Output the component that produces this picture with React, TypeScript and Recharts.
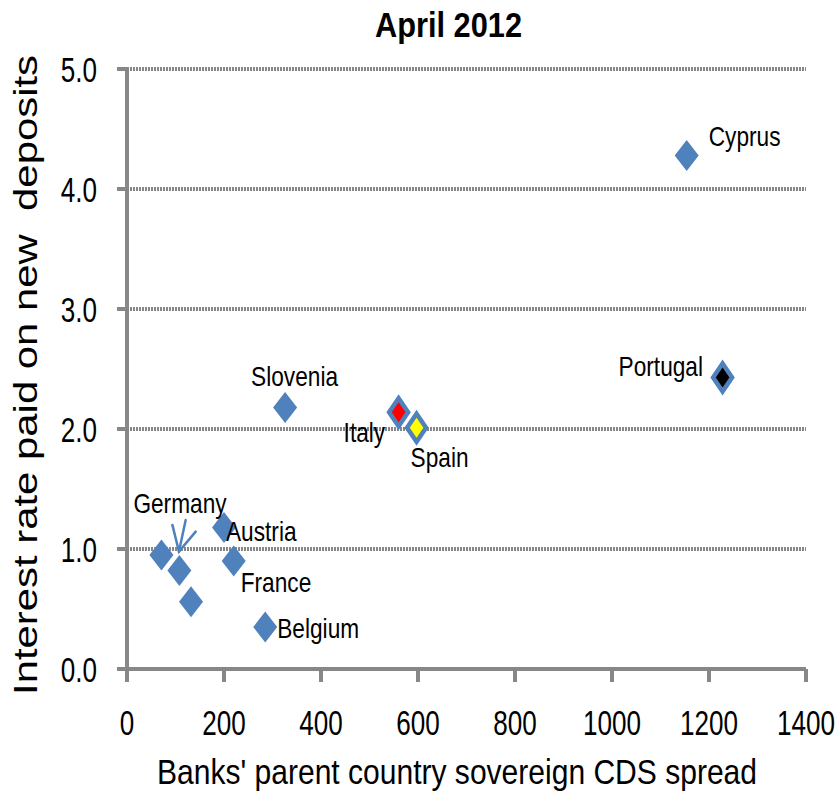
import { ScatterChart, Scatter, XAxis, YAxis, CartesianGrid } from 'recharts';

const countries = ['', 'Germany', '', 'Austria', 'France', 'Belgium', 'Slovenia', 'Italy', 'Spain', 'Portugal', 'Cyprus'];
const cdsSpread = [71, 108, 132, 200, 220, 285, 326, 560, 597, 1228, 1154];
const depositRate = [0.95, 0.82, 0.56, 1.18, 0.9, 0.35, 2.18, 2.14, 2.01, 2.43, 4.28];
const xTicks = [0, 200, 400, 600, 800, 1000, 1200, 1400];
const yTicks = [0, 1, 2, 3, 4, 5];

const points = countries.map((name, i) => ({ name, cds: cdsSpread[i], rate: depositRate[i] }));

const BLUE = '#4F81BD';
const GREY = '#878787';
const FONT = '"Liberation Sans", Arial, sans-serif';

// a few markers are filled differently
const highlightFill: Record<string, string> = { Italy: '#FF0000', Spain: '#FFFF00', Portugal: '#000000' };

// label offset from marker centre (text start, baseline)
const labelLayout: Record<string, { dx: number; dy: number; arrow?: boolean }> = {
  Germany: { dx: -46, dy: -58, arrow: true },
  Austria: { dx: 2, dy: 14 },
  France: { dx: 7, dy: 31 },
  Belgium: { dx: 12, dy: 11 },
  Slovenia: { dx: -34, dy: -21 },
  Italy: { dx: -55, dy: 30 },
  Spain: { dx: -6, dy: 39 },
  Portugal: { dx: -104, dy: -1 },
  Cyprus: { dx: 22, dy: -9 },
};

const diamond = (cx: number, cy: number, hw: number, hh: number) =>
  `M${cx},${cy - hh}L${cx + hw},${cy}L${cx},${cy + hh}L${cx - hw},${cy}Z`;

const DiamondShape = (props: any) => {
  const { cx, cy, payload } = props;
  const fill = highlightFill[payload.name];
  if (fill) {
    return <path d={diamond(cx, cy, 9.5, 14)} fill={fill} stroke={BLUE} strokeWidth={4.5} />;
  }
  return <path d={diamond(cx, cy, 12, 15.5)} fill={BLUE} />;
};

const LabelShape = (props: any) => {
  const { cx, cy, payload } = props;
  const lay = labelLayout[payload.name];
  if (!lay) return <g />;
  return (
    <g>
      <text
        transform={`translate(${cx + lay.dx},${cy + lay.dy}) scale(0.84,1)`}
        fontSize={27}
        fontFamily={FONT}
        fill="#000"
      >
        {payload.name}
      </text>
      {lay.arrow && (
        <g stroke={BLUE} strokeWidth={2.5} fill="none" strokeLinecap="round">
          <line x1={cx + 6.3} y1={cy - 50.7} x2={cx - 0.4} y2={cy - 19} />
          <polyline points={`${cx - 7},${cy - 45.7} ${cx - 0.4},${cy - 19} ${cx + 16.3},${cy - 39}`} />
        </g>
      )}
    </g>
  );
};

const XTick = (props: any) => {
  const { x, y, payload } = props;
  return (
    <text transform={`translate(${x},${y + 51}) scale(0.745,1)`} textAnchor="middle" fontSize={35} fontFamily={FONT} fill="#000">
      {payload.value}
    </text>
  );
};

const YTick = (props: any) => {
  const { x, y, payload } = props;
  return (
    <text transform={`translate(${x},${y + 13}) scale(0.745,1)`} textAnchor="end" fontSize={35} fontFamily={FONT} fill="#000">
      {Number(payload.value).toFixed(1)}
    </text>
  );
};

export default function App() {
  return (
    <div style={{ position: 'absolute', left: 0, top: 0, width: 838, height: 797, background: '#fff' }}>
      <ScatterChart width={838} height={797} margin={{ top: 69, right: 32, bottom: 0, left: 0 }}>
        <CartesianGrid vertical={false} stroke={GREY} strokeWidth={4} strokeDasharray="2 1" />
        <XAxis
          type="number"
          dataKey="cds"
          domain={[0, 1400]}
          ticks={xTicks}
          height={128}
          stroke={GREY}
          axisLine={{ stroke: GREY, strokeWidth: 4 }}
          tickLine={{ stroke: GREY, strokeWidth: 4 }}
          tickSize={13}
          tick={XTick}
        />
        <YAxis
          type="number"
          dataKey="rate"
          domain={[0, 5]}
          ticks={yTicks}
          width={127}
          stroke={GREY}
          axisLine={{ stroke: GREY, strokeWidth: 4 }}
          tickLine={{ stroke: GREY, strokeWidth: 4 }}
          tickSize={10}
          tickMargin={20}
          tick={YTick}
        />
        <Scatter data={points} shape={DiamondShape} isAnimationActive={false} />
        <Scatter data={points} shape={LabelShape} isAnimationActive={false} />
      </ScatterChart>
      <svg width={838} height={797} style={{ position: 'absolute', left: 0, top: 0, pointerEvents: 'none' }}>
        <text x={375} y={37} fontSize={35} fontWeight="bold" fontFamily={FONT} textLength={147} lengthAdjust="spacingAndGlyphs">
          April 2012
        </text>
        <text x={157} y={784} fontSize={35} fontFamily={FONT} textLength={600} lengthAdjust="spacingAndGlyphs">
          Banks' parent country sovereign CDS spread
        </text>
        <text
          transform="translate(37,695) rotate(-90)"
          fontSize={33.5}
          fontFamily={FONT}
          textLength={640}
          lengthAdjust="spacingAndGlyphs"
          style={{ whiteSpace: 'pre' }}
        >
          {'Interest rate paid on new  deposits'}
        </text>
      </svg>
    </div>
  );
}
